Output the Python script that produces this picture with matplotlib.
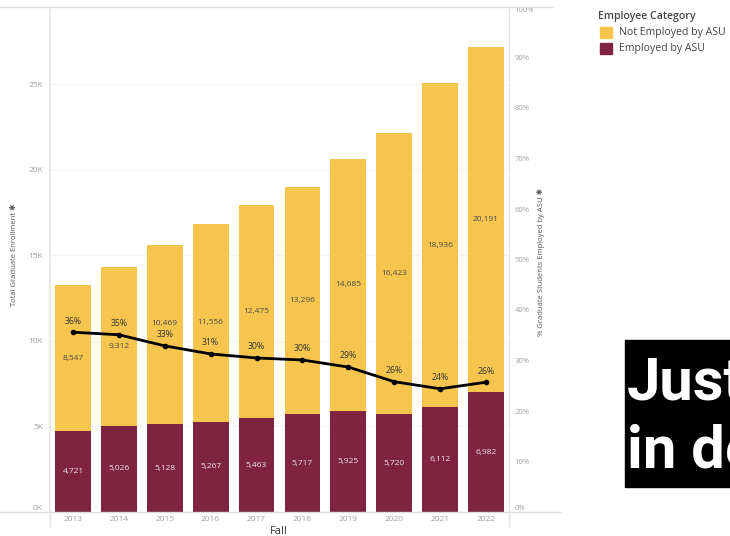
import matplotlib.pyplot as plt
import numpy as np

years = ["2013", "2014", "2015", "2016", "2017", "2018", "2019", "2020", "2021", "2022"]
employed = [4721, 5026, 5128, 5267, 5463, 5717, 5925, 5720, 6112, 6982]
not_employed = [8547, 9312, 10469, 11556, 12475, 13296, 14685, 16423, 18936, 20191]
pct_employed = [35.6, 35.1, 32.9, 31.3, 30.5, 30.1, 28.7, 25.8, 24.4, 25.7]
pct_labels = ["36%", "35%", "33%", "31%", "30%", "30%", "29%", "26%", "24%", "26%"]

left_ticks = [0, 5000, 10000, 15000, 20000, 25000]
left_ticklabels = ["0K", "5K", "10K", "15K", "20K", "25K"]
right_ticks = list(range(0, 101, 10))

GOLD = "#F5C54E"
MAROON = "#7E2340"
TICK_GREY = "#a0a0a0"
LINE_GREY = "#e4e4e4"
YMAX = 29500

plt.rcParams["font.family"] = ["Open Sans", "DejaVu Sans"]


def main():
    fig = plt.figure(figsize=(7.3, 5.36), dpi=100)
    ax = fig.add_axes([50 / 730, 24 / 536, 459 / 730, 505 / 536])
    x = np.arange(len(years))

    ax.bar(x, employed, width=0.78, color=MAROON, zorder=2)
    ax.bar(x, not_employed, width=0.78, bottom=employed, color=GOLD, zorder=2)

    # segment labels in the middle of each stack piece
    for xi, e, n, p in zip(x, employed, not_employed, pct_employed):
        ax.text(xi, e / 2, f"{e:,}", ha="center", va="center", fontsize=6,
                color="#f0e6ea", zorder=4)
        yc = e + n / 2
        pt = p / 100 * YMAX
        # push the label above the line label when they would collide
        if 0 < yc - pt < 1500:
            yc = pt + 1330
        ax.text(xi, yc, f"{n:,}", ha="center", va="center", fontsize=6,
                color="#4a4a4a", zorder=4)

    ax.set_xlim(-0.5, len(years) - 0.5)
    ax.set_ylim(0, YMAX)
    ax.set_yticks(left_ticks)
    ax.set_yticklabels(left_ticklabels)
    ax.get_yticklabels()[0].set_va("bottom")
    ax.set_xticks(x)
    ax.set_xticklabels(years)
    ax.tick_params(axis="both", length=0, labelsize=6, labelcolor=TICK_GREY)
    ax.tick_params(axis="y", pad=5)
    ax.tick_params(axis="x", pad=3)
    ax.grid(axis="y", color="#f2f2f2", linewidth=0.8, zorder=0)
    for s in ["right", "bottom", "top"]:
        ax.spines[s].set_visible(False)
    ax.spines["left"].set_color(LINE_GREY)
    ax.spines["left"].set_linewidth(1.2)

    # percentage line on a second axis
    ax2 = ax.twinx()
    ax2.plot(x, pct_employed, color="black", linewidth=2, marker="o", markersize=3, zorder=5)
    for xi, p, lab in zip(x, pct_employed, pct_labels):
        ax2.text(xi, p + 1.3, lab, ha="center", va="bottom", fontsize=6.3, color="#333333")
    ax2.set_ylim(0, 100)
    ax2.set_yticks(right_ticks)
    ax2.set_yticklabels([f"{t}%" for t in right_ticks])
    ax2.get_yticklabels()[0].set_va("bottom")
    ax2.get_yticklabels()[-1].set_va("top")
    ax2.tick_params(axis="y", length=0, labelsize=5.5, labelcolor=TICK_GREY, pad=4)
    for s in ["left", "top", "bottom"]:
        ax2.spines[s].set_visible(False)
    ax2.spines["right"].set_color(LINE_GREY)
    ax2.spines["right"].set_linewidth(1.0)

    # axis titles
    fig.text(279 / 730, 1 - 531 / 536, "Fall", fontsize=8, color="#333333",
             ha="center", va="center")
    fig.text(15 / 730, 1 - 255 / 536, "Total Graduate Enrollment \u2731", fontsize=5.5,
             color="#555555", rotation=90, ha="center", va="center")
    fig.text(541 / 730, 1 - 262 / 536, "% Graduate Students Employed by ASU \u2731", fontsize=5.5,
             color="#555555", rotation=90, ha="center", va="center")

    # baseline, top line and axis extensions
    fig.add_artist(plt.Line2D([0, 560 / 730], [24 / 536, 24 / 536], color="#dddddd", linewidth=1.0))
    fig.add_artist(plt.Line2D([0, 552 / 730], [1 - 7 / 536, 1 - 7 / 536], color="#e0ddd5", linewidth=0.9))
    fig.add_artist(plt.Line2D([50 / 730, 50 / 730], [10 / 536, 24 / 536], color=LINE_GREY, linewidth=1.0))
    fig.add_artist(plt.Line2D([509 / 730, 509 / 730], [10 / 536, 24 / 536], color=LINE_GREY, linewidth=1.0))

    # legend
    fig.text(598 / 730, 1 - 17 / 536, "Employee Category", fontsize=7.6, color="#444444",
             fontweight="semibold", va="center", ha="left")
    for i, (lab, col) in enumerate([("Not Employed by ASU", GOLD), ("Employed by ASU", MAROON)]):
        yc = 1 - (33 + i * 16) / 536
        fig.add_artist(plt.Rectangle((600 / 730, yc - 5.5 / 536), 12 / 730, 11 / 536,
                                     color=col, transform=fig.transFigure))
        fig.text(619 / 730, yc, lab, fontsize=7.6, color="#444444", va="center", ha="left")

    # black overlay box with clipped text
    fig.add_artist(plt.Rectangle((625 / 730, 1 - 487 / 536), 110 / 730, 147 / 536,
                                 color="black", transform=fig.transFigure))
    fig.text(627 / 730, 1 - 400 / 536, "Just", fontsize=43, color="white", fontweight="bold",
             family="Roboto", ha="left", va="baseline")
    fig.text(627 / 730, 1 - 468 / 536, "in de", fontsize=43, color="white", fontweight="bold",
             family="Roboto", ha="left", va="baseline")

    fig.savefig("out.png", dpi=100)


if __name__ == "__main__":
    main()
